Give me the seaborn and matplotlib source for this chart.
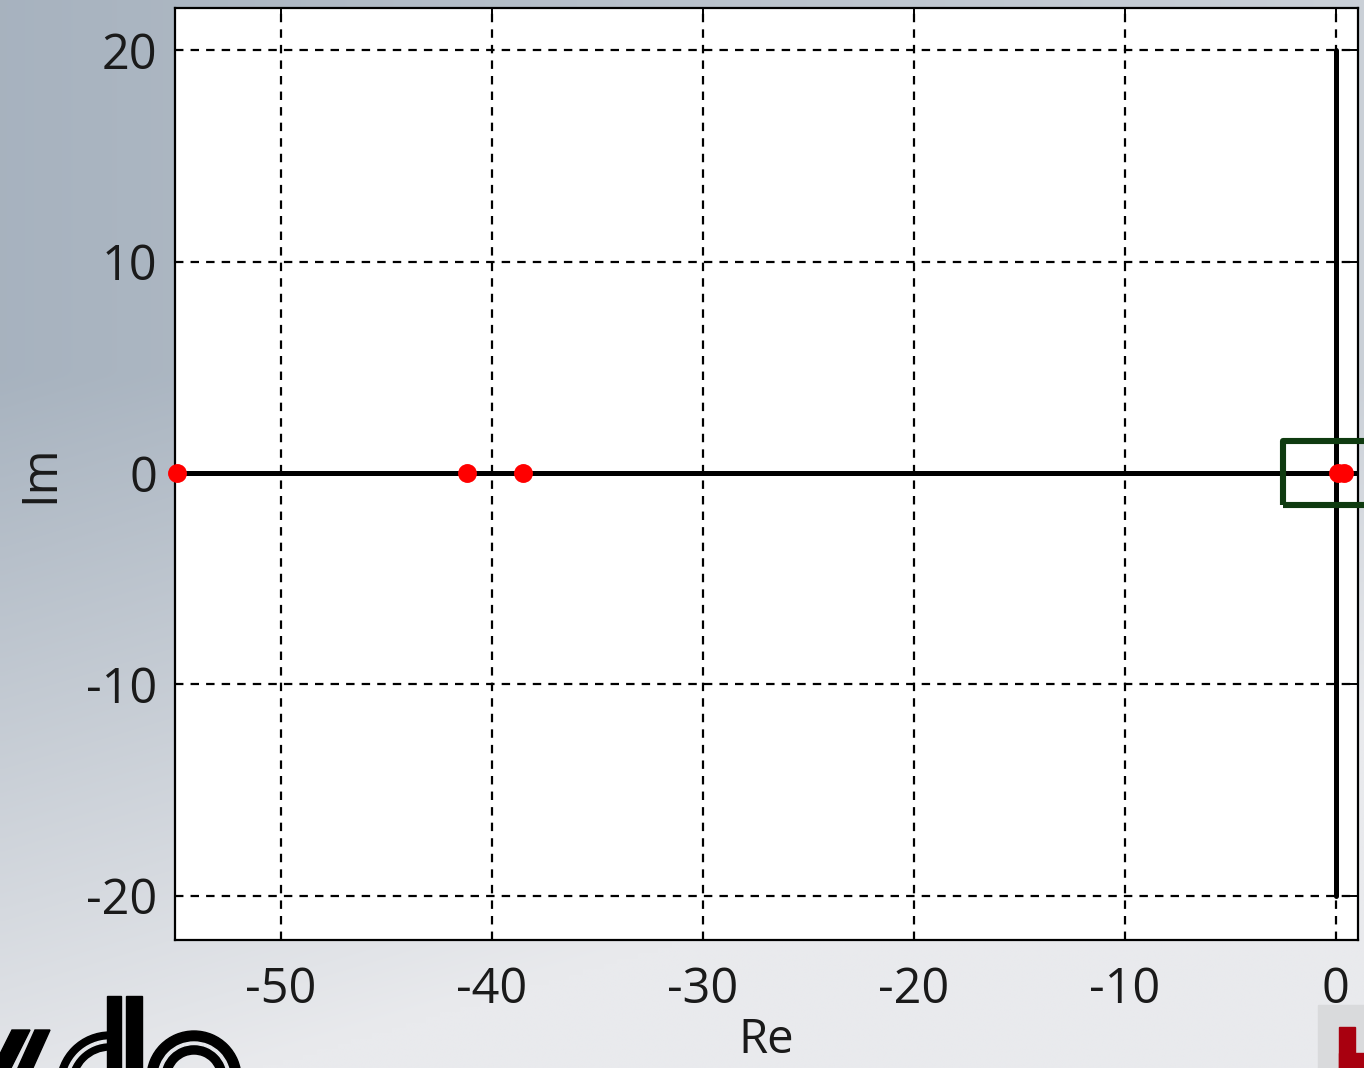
import numpy as np
import pandas as pd
import matplotlib
matplotlib.use("Agg")
import matplotlib.pyplot as plt
from matplotlib.patches import Rectangle, Wedge, Polygon
from matplotlib.colors import to_rgb
import seaborn as sns

# Pole locations in the complex plane
pole_re = [-54.9, -41.15, -38.5, 0.1, 0.38]
pole_im = [0.0, 0.0, 0.0, 0.0, 0.0]

# Axis ticks and limits
x_ticks = [-50, -40, -30, -20, -10, 0]
y_ticks = [-20, -10, 0, 10, 20]
x_limits = [-55, 1.05]
y_limits = [-22.1, 22.0]

# Imaginary axis segment and highlighted region around the origin
imag_axis_span = [-20, 20]
zoom_box_re = [-2.5, 1.7]
zoom_box_im = [-1.5, 1.5]

sns.set_style("white")
plt.rcParams["font.family"] = ["Open Sans", "DejaVu Sans"]
plt.rcParams["axes.unicode_minus"] = False

W, H = 1364, 1068
fig = plt.figure(figsize=(W / 100, H / 100), dpi=100)

# ---- slide-style background with gradient and logo fragments ----
bg = fig.add_axes([0, 0, 1, 1])
bg.set_zorder(-5)
yy, xx = np.mgrid[0:1:200j, 0:1:200j]
t = np.clip(0.06 + 1.3 * np.clip(yy - 0.35, 0, None) + 0.5 * xx, 0, 1)
dark = np.array(to_rgb("#a3afbc"))
light = np.array(to_rgb("#e9eaed"))
img = dark[None, None, :] * (1 - t[..., None]) + light[None, None, :] * t[..., None]
bg.imshow(img, extent=[0, W, H, 0], aspect="auto", interpolation="bilinear")
bg.set_xlim(0, W)
bg.set_ylim(H, 0)
bg.axis("off")

# black logo pieces (bottom left)
bg.add_patch(Polygon([[12, 1030], [30, 1030], [10, 1070], [-8, 1070]], color="black"))
bg.add_patch(Polygon([[35, 1030], [50, 1030], [32, 1070], [17, 1070]], color="black"))
bg.add_patch(Wedge((110, 1085), 53, 90, 270, width=18, color="black"))
bg.add_patch(Wedge((110, 1085), 45, 90, 270, width=2.5, color="#e4e6ea"))
bg.add_patch(Rectangle((107, 996), 14, 80, color="black"))
bg.add_patch(Rectangle((126, 996), 16, 80, color="black"))
bg.add_patch(Wedge((194, 1078), 47, 0, 360, width=23, color="black"))
bg.add_patch(Wedge((194, 1078), 36, 0, 360, width=2.5, color="#e4e6ea"))

# red logo fragment (bottom right)
bg.add_patch(Rectangle((1318, 1005), 60, 70, color="#d9dadc"))
bg.add_patch(Rectangle((1339, 1027), 16, 50, color="#a8000f"))
bg.add_patch(Rectangle((1339, 1053), 40, 30, color="#a8000f"))

# ---- pole plot ----
ax = fig.add_axes([175 / W, 1 - 940 / H, (1358 - 175) / W, (940 - 8) / H])
ax.set_facecolor("white")

ax.set_xlim(*x_limits)
ax.set_ylim(*y_limits)
ax.set_xticks(x_ticks)
ax.set_yticks(y_ticks)
ax.grid(True, color="black", linestyle=(0, (3.8, 3.2)), linewidth=1.6)
ax.set_axisbelow(True)

ax.axhline(0, color="black", linewidth=3.6, zorder=2)
ax.plot([0, 0], imag_axis_span, color="black", linewidth=3.6, zorder=2)

df = pd.DataFrame({"Re": pole_re, "Im": pole_im})
sns.scatterplot(data=df, x="Re", y="Im", ax=ax, color="#ff0000", s=185,
                linewidth=0, zorder=4, clip_on=False)

box = Rectangle((zoom_box_re[0], zoom_box_im[0]),
                zoom_box_re[1] - zoom_box_re[0], zoom_box_im[1] - zoom_box_im[0],
                fill=False, edgecolor="#0f3b10", linewidth=4.4,
                joinstyle="round", clip_on=False, zorder=5)
ax.add_patch(box)

for s in ax.spines.values():
    s.set_color("black")
    s.set_linewidth(1.6)

ax.tick_params(axis="both", direction="in", length=6, width=1.4, colors="black",
               top=True, right=True, labelsize=35)
ax.tick_params(axis="x", pad=18.5)
ax.tick_params(axis="y", pad=13)
for lab in ax.get_xticklabels() + ax.get_yticklabels():
    lab.set_color("#1a1a1a")

ax.set_xlabel("Re", fontsize=34, labelpad=1, color="#1a1a1a")
ax.set_ylabel("Im", fontsize=35, labelpad=15, color="#1a1a1a")

fig.savefig("out.png", dpi=100)
